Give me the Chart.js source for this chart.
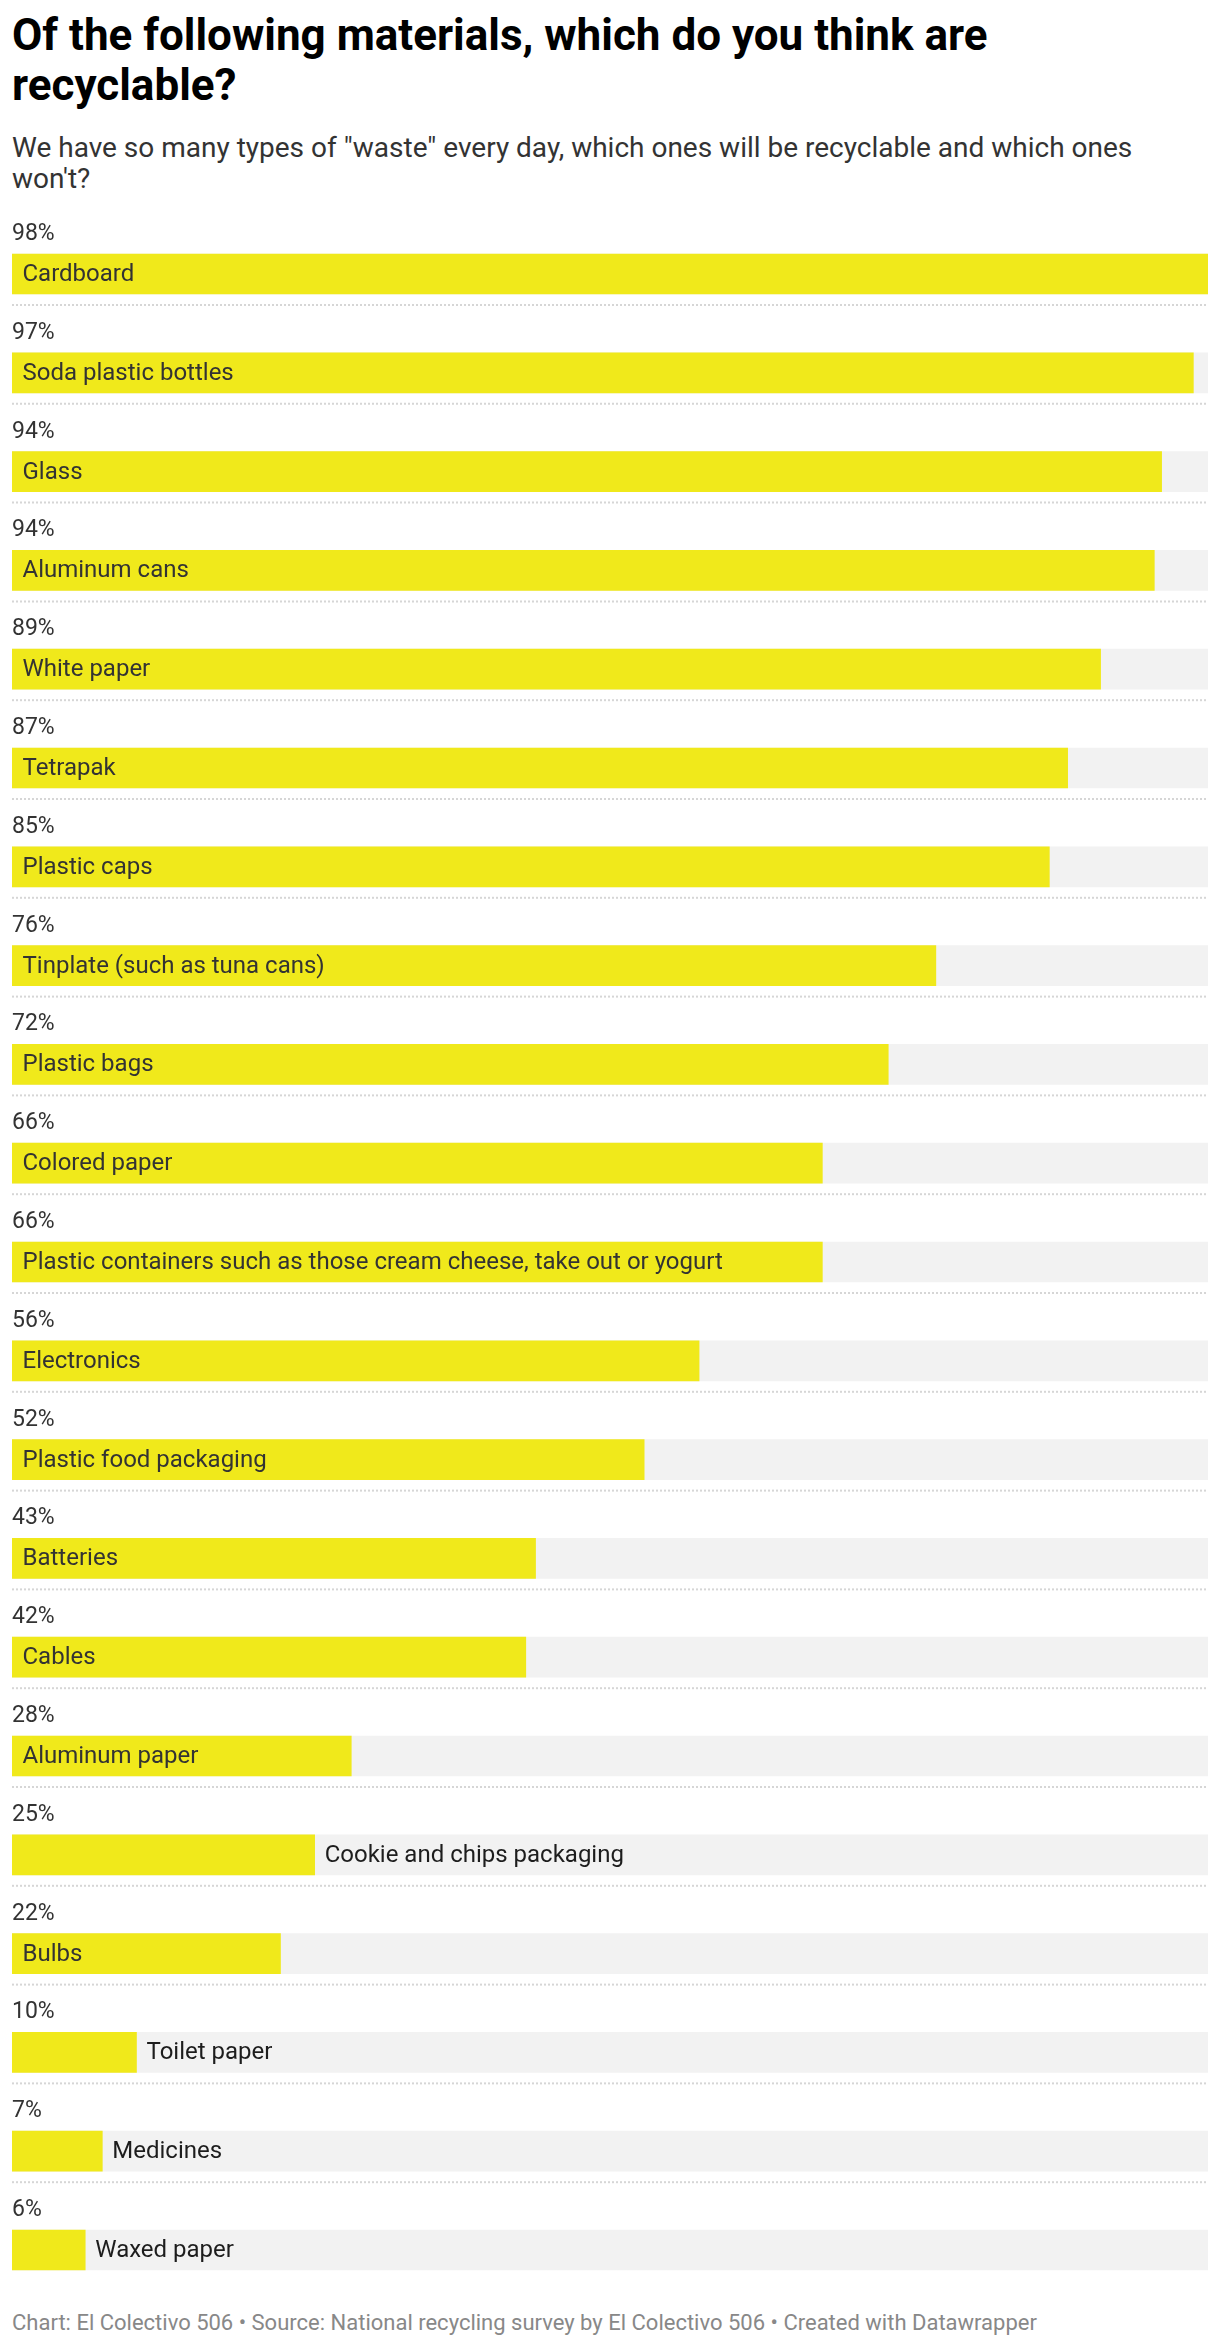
<!DOCTYPE html>
<html>
<head>
<meta charset="utf-8">
<script src="https://cdn.jsdelivr.net/npm/chart.js@4"></script>
<style>
  body { margin: 0; background: #fff; width: 1220px; height: 2348px; position: relative; font-family: Roboto, sans-serif; }
  #title { position: absolute; left: 12px; top: 10px; margin: 0; font-size: 44px; line-height: 50px; font-weight: 700; color: #000; }
  #sub { position: absolute; left: 12px; top: 131.6px; margin: 0; font-size: 28px; line-height: 31px; color: #333; }
  #chartBox { position: absolute; left: 0; top: 200px; width: 1220px; height: 2110px; }
  #foot { position: absolute; left: 12px; top: 2310px; font-size: 22px; line-height: 25px; color: #888; }
</style>
</head>
<body>
<h1 id="title">Of the following materials, which do you think are<br>recyclable?</h1>
<p id="sub">We have so many types of "waste" every day, which ones will be recyclable and which ones<br>won't?</p>
<div id="chartBox"><canvas id="chart" width="1220" height="2110"></canvas></div>
<div id="foot">Chart: El Colectivo 506 • Source: National recycling survey by El Colectivo 506 • Created with Datawrapper</div>

<script>
// materials, in the order of the chart
const materials = [
    "Cardboard", "Soda plastic bottles", "Glass", "Aluminum cans", "White paper",
    "Tetrapak", "Plastic caps", "Tinplate (such as tuna cans)", "Plastic bags", "Colored paper",
    "Plastic containers such as those cream cheese, take out or yogurt", "Electronics",
    "Plastic food packaging", "Batteries", "Cables", "Aluminum paper",
    "Cookie and chips packaging", "Bulbs", "Toilet paper", "Medicines", "Waxed paper"
]
// share who think it is recyclable (%)
const recyclable = [
    98.0, 96.8, 94.2, 93.6, 89.2,
    86.5, 85.0, 75.7, 71.8, 66.4,
    66.4, 56.3,
    51.8, 42.9, 42.1, 27.8,
    24.8, 22.0, 10.2, 7.4, 6.0
]

const maxValue = Math.max(...recyclable)
const track = materials.map(() => maxValue)   // grey background bar

const FONT = "Roboto, sans-serif"

// value labels above, dotted lines below, category text in / next to bars
const labelsPlugin = {
    id: 'dwLabels',
    afterDatasetsDraw(chart) {
        const ctx = chart.ctx
        const area = chart.chartArea
        const bars = chart.getDatasetMeta(1).data
        ctx.save()
        bars.forEach((bar, i) => {
            const top = bar.y - bar.height / 2
            const bottom = bar.y + bar.height / 2

            // value
            ctx.font = "23px " + FONT
            ctx.fillStyle = "#333"
            ctx.textAlign = "left"
            ctx.textBaseline = "alphabetic"
            ctx.fillText(Math.round(recyclable[i]) + "%", area.left, top - 14)

            // separator
            if (i < bars.length - 1) {
                ctx.strokeStyle = "#d6d6d6"
                ctx.lineWidth = 2
                ctx.setLineDash([2, 2])
                ctx.beginPath()
                ctx.moveTo(area.left, bottom + 11)
                ctx.lineTo(area.right, bottom + 11)
                ctx.stroke()
                ctx.setLineDash([])
            }

            // label
            ctx.font = "24px " + FONT
            ctx.textBaseline = "middle"
            const w = ctx.measureText(materials[i]).width
            const barWidth = bar.x - bar.base
            if (w + 20 <= barWidth) {
                ctx.fillStyle = "#333"
                ctx.fillText(materials[i], bar.base + 10.5, bar.y + 1)
            } else {
                ctx.fillStyle = "#1d1d1d"
                ctx.fillText(materials[i], bar.x + 10, bar.y + 1)
            }
        })
        ctx.restore()
    }
}

new Chart(document.getElementById('chart'), {
    type: 'bar',
    data: {
        labels: materials,
        datasets: [
            {
                label: 'track',
                data: track,
                backgroundColor: '#f2f2f2',
                barThickness: 40,
                grouped: false,
                order: 2
            },
            {
                label: 'Recyclable',
                data: recyclable,
                backgroundColor: '#f0e91b',
                barThickness: 40,
                grouped: false,
                order: 1
            }
        ]
    },
    options: {
        indexAxis: 'y',
        responsive: false,
        animation: false,
        layout: {
            padding: { left: 12, right: 12, top: 24.6, bottom: 10.6 }
        },
        scales: {
            x: { display: false, min: 0, max: maxValue },
            y: { display: false }
        },
        plugins: {
            legend: { display: false },
            tooltip: { enabled: false }
        }
    },
    plugins: [labelsPlugin]
})
</script>
</body>
</html>
